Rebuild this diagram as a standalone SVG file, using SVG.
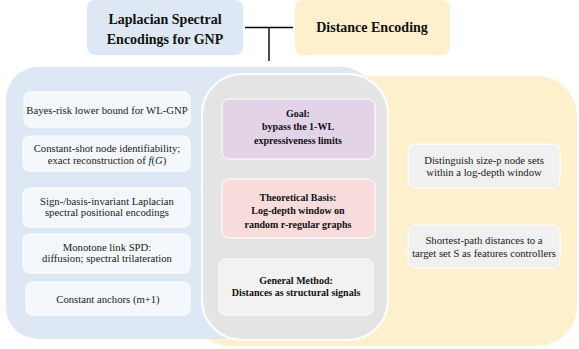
<svg xmlns="http://www.w3.org/2000/svg" width="579" height="349" viewBox="0 0 579 349">
<style>
text{font-family:"Liberation Serif","Tinos","Times New Roman","DejaVu Serif","Noto Serif",serif}
.title{font-weight:bold;font-size:14px;fill:#111;text-anchor:middle}
.body{font-size:10.7px;fill:#222;text-anchor:middle}
.bold{font-weight:bold;font-size:10px;fill:#111;text-anchor:middle}
.lcard{fill:#f4f8fc;stroke:#ffffff;stroke-width:1}
.rcard{fill:#f0f0f0;stroke:#ffffff;stroke-width:1}
.conn{stroke:#000;stroke-width:1.4;fill:none}
</style>
<rect id="region-distance" x="190" y="76" width="387" height="270" rx="40" fill="#fff0cd"/>
<rect id="region-laplacian" x="6" y="67" width="368" height="272" rx="32" fill="#dde8f4"/>
<rect id="region-core" x="202" y="74" width="186" height="266" rx="40" fill="#e4e4e4" stroke="#ffffff" stroke-width="2"/>

<g id="title-laplacian">
<rect x="87" y="0" width="156" height="55" rx="8" fill="#dde8f4"/>
<text class="title" x="165" y="23.5">Laplacian Spectral</text>
<text class="title" x="165" y="43.5">Encodings for GNP</text>
</g>
<g id="title-distance">
<rect x="295" y="0" width="155" height="55" rx="8" fill="#fff0cd"/>
<text class="title" x="372" y="31.5">Distance Encoding</text>
</g>

<g id="connectors">
<line class="conn" x1="245" y1="27.5" x2="293" y2="27.5"/>
<line class="conn" x1="269" y1="27.5" x2="269" y2="61"/>
</g>

<g id="l1"><rect class="lcard" x="24" y="92" width="166" height="35" rx="6"/>
<text class="body" x="107" y="113.5">Bayes-risk lower bound for WL-GNP</text></g>
<g id="l2"><rect class="lcard" x="23" y="136" width="167" height="35" rx="6"/>
<text class="body" x="107" y="151.5">Constant-shot node identifiability;</text>
<text class="body" x="107" y="163.5">exact reconstruction of <tspan font-style="italic">f</tspan>(<tspan font-style="italic">G</tspan>)</text></g>
<g id="l3"><rect class="lcard" x="23" y="188" width="167" height="39" rx="6"/>
<text class="body" x="107" y="204.5">Sign-/basis-invariant Laplacian</text>
<text class="body" x="107" y="216">spectral positional encodings</text></g>
<g id="l4"><rect class="lcard" x="23" y="234" width="167" height="39" rx="6"/>
<text class="body" x="107" y="250.5">Monotone link SPD:</text>
<text class="body" x="107" y="262">diffusion; spectral trilateration</text></g>
<g id="l5"><rect class="lcard" x="26" y="282" width="164" height="33" rx="6"/>
<text class="body" x="108" y="302.5">Constant anchors (m+1)</text></g>

<g id="goal"><rect x="222" y="99" width="153" height="60" rx="7" fill="#e2d3e7" stroke="#ffffff" stroke-width="1"/>
<text class="bold" x="298" y="116.5">Goal:</text>
<text class="bold" x="298" y="130">bypass the 1-WL</text>
<text class="bold" x="298" y="143.5">expressiveness limits</text></g>
<g id="basis"><rect x="222" y="179" width="153" height="59" rx="7" fill="#f8dcdc" stroke="#ffffff" stroke-width="1"/>
<text class="bold" x="298" y="200.5">Theoretical Basis:</text>
<text class="bold" x="298" y="214">Log-depth window on</text>
<text class="bold" x="298" y="227.5">random r-regular graphs</text></g>
<g id="method"><rect x="219" y="259" width="154" height="56" rx="7" fill="#f2f2f2" stroke="#ffffff" stroke-width="1"/>
<text class="bold" x="296" y="283.5">General Method:</text>
<text class="bold" x="296" y="296">Distances as structural signals</text></g>

<g id="r1"><rect class="rcard" x="408" y="144" width="152" height="44" rx="7"/>
<text class="body" x="484" y="163.5">Distinguish size-p node sets</text>
<text class="body" x="484" y="176">within a log-depth window</text></g>
<g id="r2"><rect class="rcard" x="408" y="225" width="152" height="43" rx="7"/>
<text class="body" x="484" y="243.5">Shortest-path distances to a</text>
<text class="body" x="484" y="256.5">target set S as features controllers</text></g>
</svg>
